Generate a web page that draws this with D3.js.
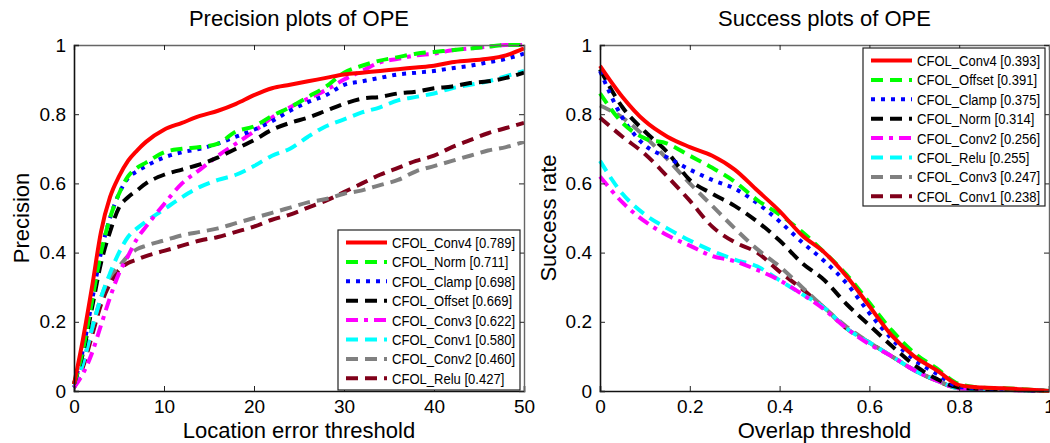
<!DOCTYPE html>
<html>
<head>
<meta charset="utf-8"/>
<script src="https://d3js.org/d3.v7.min.js"></script>
<style>
  body { margin:0; background:#fff; }
  text { font-family: "Liberation Sans", Arial, sans-serif; fill:#000; }
</style>
</head>
<body>
<svg id="chart" width="1050" height="443"></svg>
<script>
// precision plot data (x = location error threshold)
var precX = [0,1,2,3,4,5,6,7,8,10,12,14,16,18,20,22,24,26,28,30,32,34,36,38,40,42,44,46,48,50];
var precConv4  = [0.02,0.15,0.30,0.46,0.56,0.62,0.665,0.695,0.72,0.755,0.775,0.795,0.81,0.83,0.855,0.875,0.885,0.895,0.905,0.915,0.92,0.925,0.93,0.935,0.94,0.95,0.955,0.96,0.97,0.99];
var precNorm   = [0.02,0.12,0.26,0.40,0.50,0.57,0.62,0.645,0.66,0.69,0.70,0.705,0.715,0.75,0.765,0.795,0.82,0.85,0.88,0.92,0.94,0.955,0.965,0.975,0.98,0.985,0.99,0.995,1.0,1.0];
var precClamp  = [0.02,0.12,0.26,0.40,0.50,0.57,0.615,0.635,0.65,0.675,0.69,0.70,0.715,0.735,0.755,0.78,0.81,0.835,0.855,0.885,0.895,0.905,0.915,0.92,0.925,0.933,0.94,0.95,0.96,0.975];
var precOffset = [0.02,0.11,0.24,0.37,0.46,0.53,0.56,0.58,0.60,0.625,0.64,0.655,0.675,0.70,0.725,0.755,0.775,0.79,0.81,0.83,0.845,0.85,0.86,0.865,0.875,0.88,0.89,0.895,0.905,0.92];
var precConv3  = [0.01,0.05,0.11,0.19,0.27,0.34,0.39,0.44,0.475,0.54,0.60,0.64,0.68,0.715,0.75,0.79,0.82,0.845,0.87,0.90,0.925,0.95,0.96,0.97,0.975,0.985,0.99,0.995,1.0,1.0];
var precConv1  = [0.01,0.08,0.18,0.27,0.34,0.40,0.445,0.47,0.49,0.525,0.56,0.59,0.61,0.625,0.65,0.68,0.70,0.735,0.765,0.785,0.805,0.82,0.84,0.85,0.86,0.875,0.885,0.895,0.91,0.925];
var precConv2  = [0.01,0.08,0.18,0.27,0.33,0.36,0.39,0.41,0.42,0.435,0.45,0.46,0.47,0.485,0.50,0.515,0.53,0.545,0.555,0.57,0.58,0.595,0.61,0.635,0.65,0.665,0.68,0.695,0.705,0.72];
var precRelu   = [0.01,0.07,0.16,0.25,0.31,0.35,0.37,0.38,0.39,0.405,0.42,0.435,0.445,0.46,0.475,0.495,0.51,0.53,0.55,0.575,0.60,0.625,0.645,0.665,0.68,0.705,0.725,0.745,0.76,0.775];

// success plot data (x = overlap threshold)
var succX = [0,0.05,0.1,0.15,0.2,0.25,0.3,0.35,0.4,0.45,0.5,0.55,0.6,0.65,0.7,0.75,0.8,0.85,0.9,0.95,1];
var succConv4  = [0.94,0.85,0.78,0.735,0.705,0.68,0.64,0.58,0.52,0.45,0.40,0.33,0.245,0.16,0.10,0.06,0.017,0.01,0.008,0.004,0];
var succOffset = [0.86,0.775,0.73,0.715,0.68,0.645,0.605,0.552,0.51,0.46,0.40,0.335,0.255,0.175,0.11,0.065,0.02,0.01,0.008,0.004,0];
var succClamp  = [0.925,0.79,0.71,0.675,0.64,0.61,0.585,0.543,0.49,0.43,0.375,0.31,0.225,0.15,0.09,0.05,0.012,0.008,0.006,0.003,0];
var succNorm   = [0.93,0.82,0.75,0.69,0.61,0.57,0.535,0.49,0.435,0.37,0.32,0.25,0.19,0.13,0.075,0.035,0.01,0.006,0.004,0.002,0];
var succConv2  = [0.62,0.545,0.49,0.45,0.42,0.39,0.375,0.35,0.32,0.28,0.235,0.18,0.135,0.10,0.06,0.03,0.008,0.005,0.003,0.002,0];
var succRelu   = [0.665,0.57,0.51,0.47,0.435,0.405,0.38,0.36,0.32,0.28,0.24,0.18,0.14,0.10,0.06,0.03,0.008,0.005,0.003,0.002,0];
var succConv3  = [0.825,0.79,0.735,0.67,0.60,0.535,0.47,0.41,0.36,0.30,0.24,0.185,0.14,0.10,0.06,0.03,0.008,0.005,0.003,0.002,0];
var succConv1  = [0.79,0.735,0.685,0.62,0.55,0.475,0.43,0.40,0.345,0.295,0.24,0.18,0.14,0.10,0.06,0.03,0.008,0.005,0.003,0.002,0];

var precTicksX = [0,10,20,30,40,50];
var succTicksX = [0,0.2,0.4,0.6,0.8,1];
var ticksY = [0,0.2,0.4,0.6,0.8,1];

// line styles
var styles = {
  Conv4:  {color:"#ff0000", dash:null},
  Norm:   {color:"#00ff00", dash:"12,7"},
  Clamp:  {color:"#0000ff", dash:"4,6"},
  Offset: {color:"#000000", dash:"12,7"},
  Conv3:  {color:"#ff00ff", dash:"12,6,4,6"},
  Conv1:  {color:"#00ffff", dash:"12,7"},
  Conv2:  {color:"#808080", dash:"12,7"},
  Relu:   {color:"#80001a", dash:"12,7"}
};

var precSeries = [
  {key:"Conv4", label:"CFOL_Conv4 [0.789]", y:precConv4},
  {key:"Norm", label:"CFOL_Norm [0.711]", y:precNorm},
  {key:"Clamp", label:"CFOL_Clamp [0.698]", y:precClamp},
  {key:"Offset", label:"CFOL_Offset [0.669]", y:precOffset},
  {key:"Conv3", label:"CFOL_Conv3 [0.622]", y:precConv3},
  {key:"Conv1", label:"CFOL_Conv1 [0.580]", y:precConv1},
  {key:"Conv2", label:"CFOL_Conv2 [0.460]", y:precConv2},
  {key:"Relu", label:"CFOL_Relu [0.427]", y:precRelu}
];
// the success plot uses the same colour order, different names
var succSeries = [
  {key:"Conv4", label:"CFOL_Conv4 [0.393]", y:succConv4},
  {key:"Norm", label:"CFOL_Offset [0.391]", y:succOffset},
  {key:"Clamp", label:"CFOL_Clamp [0.375]", y:succClamp},
  {key:"Offset", label:"CFOL_Norm [0.314]", y:succNorm},
  {key:"Conv3", label:"CFOL_Conv2 [0.256]", y:succConv2},
  {key:"Conv1", label:"CFOL_Relu [0.255]", y:succRelu},
  {key:"Conv2", label:"CFOL_Conv3 [0.247]", y:succConv3},
  {key:"Relu", label:"CFOL_Conv1 [0.238]", y:succConv1}
];

var svg = d3.select("#chart");

function drawPlot(o) {
  var x = d3.scaleLinear().domain(o.xDomain).range([o.left, o.right]);
  var y = d3.scaleLinear().domain([0,1]).range([391, 45]);
  var g = svg.append("g");

  // curves, drawn last-first so red ends on top
  var line = d3.line().x(function(d){ return x(d[0]); }).y(function(d){ return y(d[1]); })
               .curve(d3.curveMonotoneX);
  o.series.slice().reverse().forEach(function(s){
    var pts = o.xs.map(function(v,i){ return [v, s.y[i]]; });
    g.append("path").attr("d", line(pts))
      .attr("fill","none").attr("stroke", styles[s.key].color)
      .attr("stroke-width", 4)
      .attr("stroke-dasharray", styles[s.key].dash);
  });

  // axes box with inward ticks
  var fmt = function(d){ return d===0 ? "0" : (d===1 ? "1" : d3.format("")(d)); };
  var bottom = g.append("g").attr("transform","translate(0,391)")
    .call(d3.axisBottom(x).tickValues(o.xTicks).tickSize(-5).tickPadding(9).tickFormat(fmt));
  var top = g.append("g").attr("transform","translate(0,45)")
    .call(d3.axisTop(x).tickValues(o.xTicks).tickSize(-5).tickFormat(""));
  var left = g.append("g").attr("transform","translate("+o.left+",0)")
    .call(d3.axisLeft(y).tickValues(ticksY).tickSize(-5).tickPadding(8).tickFormat(fmt));
  var right = g.append("g").attr("transform","translate("+o.right+",0)")
    .call(d3.axisRight(y).tickValues(ticksY).tickSize(-5).tickFormat(""));
  [bottom,left].forEach(function(a){ a.select(".domain").attr("stroke","#111").attr("stroke-width",1.6); });
  [top,right].forEach(function(a){ a.select(".domain").attr("stroke","#666").attr("stroke-width",1.4); });
  g.selectAll(".tick line").attr("stroke","#222");
  g.selectAll(".tick text").attr("font-size",19).attr("font-family","Liberation Sans, Arial");

  g.append("text").attr("x",(o.left+o.right)/2).attr("y",26)
    .attr("text-anchor","middle").attr("font-size",22).text(o.title);
  g.append("text").attr("x",(o.left+o.right)/2).attr("y",438)
    .attr("text-anchor","middle").attr("font-size",22).text(o.xLabel);
  g.append("text").attr("transform","translate("+o.yLabelX+",218) rotate(-90)")
    .attr("text-anchor","middle").attr("font-size",22).text(o.yLabel);

  // legend
  var lg = g.append("g");
  lg.append("rect").attr("x",o.lx).attr("y",o.ly).attr("width",o.lw).attr("height",o.lh)
    .attr("fill","#fff").attr("stroke","#222").attr("stroke-width",1.2);
  o.series.forEach(function(s,i){
    var yy = o.ly + 12.5 + i*19.4;
    lg.append("line").attr("x1",o.lx+8).attr("x2",o.lx+49).attr("y1",yy).attr("y2",yy)
      .attr("stroke",styles[s.key].color).attr("stroke-width",4)
      .attr("stroke-dasharray",styles[s.key].dash);
    // slightly condensed text, like the original export
    lg.append("text").attr("transform","translate("+(o.lx+54)+","+(yy+5.5)+") scale(0.87,1)")
      .attr("font-size",15).text(s.label);
  });
}

drawPlot({
  xDomain:[0,50], left:74, right:524, xs:precX, series:precSeries, xTicks:precTicksX,
  title:"Precision plots of OPE", xLabel:"Location error threshold", yLabel:"Precision", yLabelX:29,
  lx:338, ly:230, lw:182, lh:160
});
drawPlot({
  xDomain:[0,1], left:600, right:1049, xs:succX, series:succSeries, xTicks:succTicksX,
  title:"Success plots of OPE", xLabel:"Overlap threshold", yLabel:"Success rate", yLabelX:556,
  lx:863, ly:48, lw:182, lh:158
});
</script>
</body>
</html>
